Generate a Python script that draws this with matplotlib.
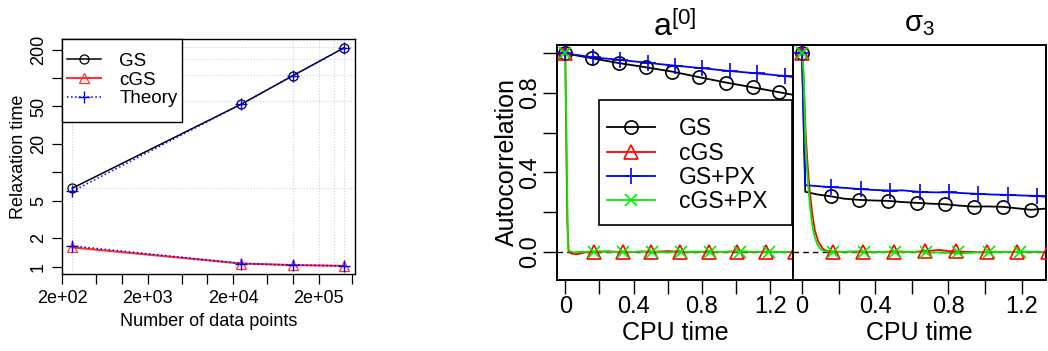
import numpy as np
import matplotlib.pyplot as plt
from matplotlib.patches import Rectangle
from matplotlib.lines import Line2D
from matplotlib.ticker import NullLocator

plt.rcParams['font.family'] = ['Liberation Sans', 'DejaVu Sans']
plt.rcParams['mathtext.fontset'] = 'custom'
plt.rcParams['mathtext.rm'] = 'Liberation Sans'
plt.rcParams['mathtext.it'] = 'Liberation Sans:italic'

# ---- left panel: relaxation time vs number of data points ----
n_points = [262, 25000, 100000, 400000]
relax_gs = [6.8, 53, 106, 210]
relax_cgs = [1.60, 1.08, 1.04, 1.02]
theory_gs = [6.3, 53, 106, 210]
theory_cgs = [1.66, 1.08, 1.04, 1.02]
grid_x = [262, 1e5, 2e5, 3e5, 4e5]
grid_y = [6.8, 57, 108, 158, 212]
x_ticks = [200, 500, 1e3, 2e3, 5e3, 1e4, 2e4, 5e4, 1e5, 2e5, 5e5]
x_ticklabels = ['2e+02', '', '', '2e+03', '', '', '2e+04', '', '', '2e+05', '']
y_ticks = [1, 2, 5, 10, 20, 50, 100, 200]
y_ticklabels = ['1', '2', '5', '', '20', '50', '', '200']

# ---- right panels: autocorrelation vs CPU time ----
methods = ['GS', 'cGS', 'GS+PX', 'cGS+PX']
colors = ['black', '#ff0000', '#0000ff', '#00ee00']
markers = ['o', '^', '+', 'x']

# marker times (same for both parameters)
gs_mk_t = [0, 0.157, 0.313, 0.47, 0.626, 0.783, 0.94, 1.096, 1.253]
cgs_mk_t = [0, 0.168, 0.336, 0.504, 0.672, 0.84, 1.008, 1.176, 1.344]
gspx_mk_t = [0, 0.161, 0.321, 0.482, 0.642, 0.803, 0.963, 1.124, 1.284]
cgspx_mk_t = [0, 0.17, 0.34, 0.51, 0.68, 0.85, 1.02, 1.19]

# a[0]
a_gs_t = [0, 0.157, 0.313, 0.47, 0.626, 0.783, 0.94, 1.096, 1.253, 1.34]
a_gs_y = [1.0, 0.975, 0.951, 0.93, 0.908, 0.88, 0.853, 0.829, 0.804, 0.79]
a_gs_mk = [1.0, 0.975, 0.951, 0.93, 0.908, 0.88, 0.853, 0.829, 0.804]
a_gspx_t = [0, 0.161, 0.321, 0.482, 0.642, 0.803, 0.963, 1.124, 1.284, 1.34]
a_gspx_y = [1.0, 0.98, 0.967, 0.952, 0.938, 0.925, 0.911, 0.899, 0.886, 0.88]
a_gspx_mk = [1.0, 0.98, 0.967, 0.952, 0.938, 0.925, 0.911, 0.899, 0.886]
a_cgs_t = [0, 0.005, 0.012, 0.02, 0.035, 0.063, 0.09, 0.12, 0.17, 0.25, 0.34, 0.45,
           0.51, 0.6, 0.68, 0.76, 0.84, 0.93, 1.01, 1.1, 1.19, 1.27, 1.34]
a_cgs_y = [1.0, 0.6, 0.15, 0.0, -0.008, -0.012, -0.008, -0.002, 0.0, 0.003, -0.002, 0.002,
           0.0, 0.004, 0.001, -0.002, 0.002, 0.0, 0.003, -0.001, 0.001, 0.0, -0.002]
a_cgs_mk = [1.0, 0.0, 0.002, 0.0, 0.001, 0.0, 0.002, 0.0, 0.0]
a_cgspx_t = [0, 0.008, 0.016, 0.025, 0.05, 0.1, 0.2, 0.3, 0.45, 0.6, 0.75, 0.9, 1.05, 1.2, 1.34]
a_cgspx_y = [1.0, 0.55, 0.02, 0.004, -0.002, 0.0, 0.002, -0.001, 0.001, -0.002, 0.001, 0.0, 0.002, -0.001, 0.0]
a_cgspx_mk = [1.0, 0.0, 0.0, 0.0, 0.0, 0.0, 0.0, 0.0]

# sigma_3
s_gs_t = [0, 0.018, 0.08, 0.157, 0.23, 0.313, 0.39, 0.47, 0.55, 0.626, 0.7, 0.783,
          0.86, 0.94, 1.01, 1.096, 1.17, 1.253, 1.34]
s_gs_y = [1.0, 0.303, 0.29, 0.28, 0.268, 0.262, 0.259, 0.257, 0.251, 0.247, 0.243, 0.24,
          0.233, 0.228, 0.229, 0.227, 0.22, 0.212, 0.219]
s_gs_mk = [1.0, 0.28, 0.262, 0.257, 0.247, 0.24, 0.228, 0.227, 0.212]
s_gspx_t = [0, 0.018, 0.06, 0.161, 0.24, 0.321, 0.39, 0.482, 0.55, 0.642, 0.72, 0.803,
            0.88, 0.963, 1.04, 1.124, 1.2, 1.284, 1.34]
s_gspx_y = [1.0, 0.336, 0.333, 0.326, 0.322, 0.316, 0.312, 0.309, 0.31, 0.302, 0.3, 0.3,
            0.296, 0.292, 0.289, 0.287, 0.284, 0.282, 0.277]
s_gspx_mk = [1.0, 0.326, 0.316, 0.309, 0.302, 0.3, 0.292, 0.287, 0.282]
s_cgs_t = [0, 0.006, 0.012, 0.02, 0.03, 0.04, 0.055, 0.07, 0.09, 0.115, 0.14, 0.2, 0.3,
           0.4, 0.5, 0.6, 0.7, 0.75, 0.8, 0.9, 1.0, 1.1, 1.2, 1.34]
s_cgs_y = [1.0, 0.93, 0.8, 0.6, 0.45, 0.33, 0.2, 0.11, 0.05, 0.015, 0.003, 0.0, 0.002,
           -0.002, 0.003, 0.0, 0.006, 0.01, 0.004, 0.0, -0.002, 0.001, 0.0, -0.001]
s_cgs_mk = [1.0, 0.0, 0.002, 0.0, 0.003, 0.004, 0.0, 0.0, 0.0]
s_cgspx_t = [0, 0.004, 0.009, 0.018, 0.027, 0.036, 0.045, 0.055, 0.068, 0.082, 0.1, 0.118,
             0.15, 0.3, 0.45, 0.6, 0.75, 0.85, 0.95, 1.1, 1.25, 1.34]
s_cgspx_y = [1.0, 0.96, 0.9, 0.563, 0.42, 0.311, 0.22, 0.143, 0.08, 0.042, 0.015, 0.005,
             0.0, 0.001, -0.001, 0.0, -0.003, -0.008, -0.003, 0.0, 0.001, 0.0]
s_cgspx_mk = [1.0, 0.0, 0.0, 0.0, 0.0, -0.003, -0.002, 0.0]

t_ticks = [0, 0.2, 0.4, 0.6, 0.8, 1.0, 1.2]
t_ticklabels = ['0', '', '0.4', '', '0.8', '', '1.2']
ac_ticks = [0, 0.2, 0.4, 0.6, 0.8, 1.0]
ac_ticklabels = ['0.0', '', '0.4', '', '0.8', '']

W, H = 1048, 351


def box(l, t, r, b):
    return [l / W, 1 - b / H, (r - l) / W, (b - t) / H]


fig = plt.figure(figsize=(W / 100, H / 100), dpi=100)

# ================= left panel =================
ax0 = fig.add_axes(box(62.3, 39.3, 355, 274.3))
ax0.set_xscale('log')
ax0.set_yscale('log')
for gx in grid_x:
    ax0.axvline(gx, color='#c4d4ee', lw=0.8, ls=':', zorder=1)
for gy in grid_y:
    ax0.axhline(gy, color='#c4d4ee', lw=0.8, ls=':', zorder=1)

ax0.plot(n_points, relax_gs, color='black', lw=1.1, marker='o', mfc='none', ms=6.5, mew=0.9, label='GS')
ax0.plot(n_points, relax_cgs, color='#ff3030', lw=1.5, marker='^', mfc='none', ms=7, mew=0.9, label='cGS')
ax0.plot(n_points, theory_gs, color='#0000ff', lw=1.1, ls=':', marker='+', ms=9, mew=1.0, label='Theory')
ax0.plot(n_points, theory_cgs, color='#0000ff', lw=1.1, ls=':', marker='+', ms=9, mew=1.0)

ax0.set_xlim(200.4, 535000)
ax0.set_ylim(0.83, 258)
ax0.set_xticks(x_ticks)
ax0.set_xticklabels(x_ticklabels)
ax0.set_yticks(y_ticks)
ax0.set_yticklabels(y_ticklabels, rotation=90, va='center')
ax0.xaxis.set_minor_locator(NullLocator())
ax0.yaxis.set_minor_locator(NullLocator())
ax0.tick_params(direction='out', length=7, width=0.9, labelsize=13, pad=4)
for sp in ax0.spines.values():
    sp.set_linewidth(1.0)
ax0.set_xlabel('Number of data points', fontsize=13)
ax0.set_ylabel('Relaxation time', fontsize=13)
ax0.xaxis.set_label_coords(0.5, -0.163)
ax0.yaxis.set_label_coords(-0.122, 0.5)

rect0 = Rectangle((62.3 / W, 1 - 121.7 / H), 120 / W, 82.4 / H, transform=fig.transFigure,
                  fc='white', ec='black', lw=1.0, zorder=4, clip_on=False)
ax0.add_patch(rect0)
ax0.legend(loc='upper left', bbox_to_anchor=(66.7 / W, 1 - 52.7 / H), bbox_transform=fig.transFigure,
           frameon=False, borderpad=0, borderaxespad=0, fontsize=13.5, handlelength=1.85,
           handletextpad=0.95, labelspacing=0.085, numpoints=1)

# ================= right panels =================
ax1 = fig.add_axes(box(556.7, 45, 793, 279.5))
ax2 = fig.add_axes(box(793, 45, 1046, 279.5))

panels = [
    (ax1, [(a_gs_t, a_gs_y, gs_mk_t, a_gs_mk),
           (a_cgs_t, a_cgs_y, cgs_mk_t, a_cgs_mk),
           (a_gspx_t, a_gspx_y, gspx_mk_t, a_gspx_mk),
           (a_cgspx_t, a_cgspx_y, cgspx_mk_t, a_cgspx_mk)]),
    (ax2, [(s_gs_t, s_gs_y, gs_mk_t, s_gs_mk),
           (s_cgs_t, s_cgs_y, cgs_mk_t, s_cgs_mk),
           (s_gspx_t, s_gspx_y, gspx_mk_t, s_gspx_mk),
           (s_cgspx_t, s_cgspx_y, cgspx_mk_t, s_cgspx_mk)]),
]
msizes = {'o': 9.5, '^': 10, '+': 12, 'x': 9}

for ax, series in panels:
    ax.axhline(0, color='black', lw=1.0, ls=(0, (4, 3)), zorder=1)
    for (lt, ly, mt, my), c, m in zip(series, colors, markers):
        ax.plot(lt, ly, color=c, lw=1.3, zorder=2)
        ax.plot(mt, my, ls='none', marker=m, ms=msizes[m], mfc='none', mec=c, mew=1.2, zorder=3)
    ax.set_ylim(-0.139, 1.042)
    ax.set_xticks(t_ticks)
    ax.set_xticklabels(t_ticklabels)
    ax.tick_params(axis='x', direction='out', length=10, width=1.0, labelsize=17, pad=2)
    ax.set_xlabel('CPU time', fontsize=18)
    ax.xaxis.set_label_coords(0.5, -0.175)
    for sp in ax.spines.values():
        sp.set_linewidth(1.4)

ax1.set_xlim(-0.05, 1.333)
ax2.set_xlim(-0.049, 1.333)
ax1.set_yticks(ac_ticks)
ax1.set_yticklabels(ac_ticklabels, rotation=90, va='center')
ax1.tick_params(axis='y', direction='out', length=10, width=1.0, labelsize=17, pad=1)
ax1.set_ylabel('Autocorrelation', fontsize=18)
ax1.yaxis.set_label_coords(-0.16, 0.5)
ax2.set_yticks([])

ax1.text(0.5, (279.5 - 36) / 234.5, r'$\mathrm{a^{[0]}}$', transform=ax1.transAxes,
         ha='center', va='baseline', fontsize=23)
ax2.text(0.5, (279.5 - 31.7) / 234.5, r'$\mathrm{\sigma_3}$', transform=ax2.transAxes,
         ha='center', va='baseline', fontsize=21)

rect1 = Rectangle((599 / W, 1 - 225 / H), 193 / W, 125 / H, transform=fig.transFigure,
                  fc='white', ec='black', lw=1.2, zorder=4, clip_on=False)
ax1.add_patch(rect1)
handles = [Line2D([], [], color=c, lw=1.3, marker=m, ms=msizes[m], mfc='none', mec=c, mew=1.2)
           for c, m in zip(colors, markers)]
ax1.legend(handles, methods, loc='upper left', bbox_to_anchor=(606.7 / W, 1 - 117.4 / H),
           bbox_transform=fig.transFigure, frameon=False, borderpad=0, borderaxespad=0,
           fontsize=16.5, handlelength=2.1, handletextpad=1.05, labelspacing=0.05, numpoints=1)

fig.savefig('out.png', dpi=100)
